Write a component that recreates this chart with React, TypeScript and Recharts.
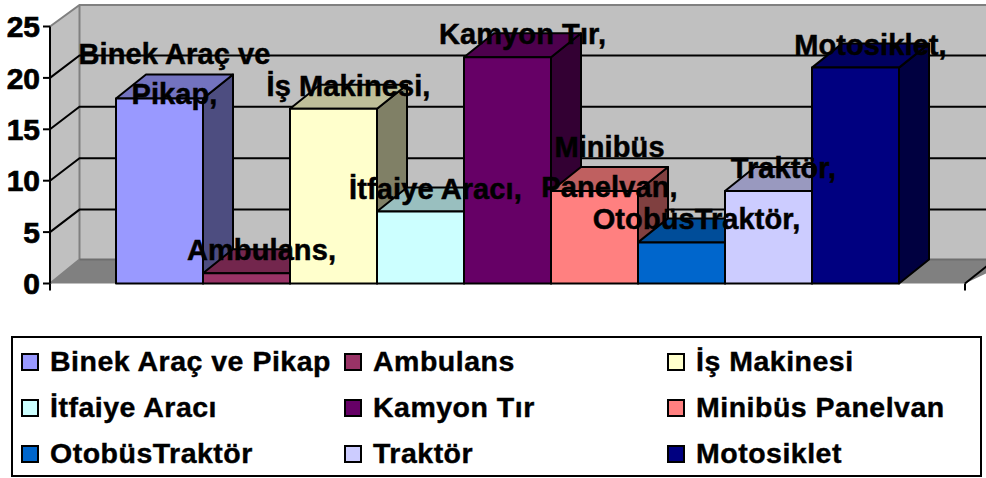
import React from "react";
import { BarChart, Bar, XAxis, YAxis, CartesianGrid, Legend, LabelList } from "recharts";

const seriesNames = ["Binek Araç ve Pikap", "Ambulans", "İş Makinesi", "İtfaiye Aracı", "Kamyon Tır", "Minibüs Panelvan", "OtobüsTraktör", "Traktör", "Motosiklet"];
const seriesValues = [18, 1, 17, 7, 22, 9, 4, 9, 21];
const seriesColors = ["#9999FF", "#993366", "#FFFFCC", "#CCFFFF", "#660066", "#FF8080", "#0066CC", "#CCCCFF", "#000080"];
const labelLines = [["Binek Araç ve", "Pikap,"], ["Ambulans,"], ["İş Makinesi,"], ["İtfaiye Aracı,"], ["Kamyon Tır,"], ["Minibüs", "Panelvan,"], ["OtobüsTraktör,"], ["Traktör,"], ["Motosiklet,"]];
const yTicks = [0, 5, 10, 15, 20, 25];

const row: Record<string, string | number> = { name: "" };
seriesNames.forEach((n, i) => { row[n] = seriesValues[i]; });
const data = [row];

const W = 986, H = 478;
const PLOT = { left: 50, right: 965, top: 26.5, bottom: 283.5 };
const DX = 29.5, DY = 22.5, BAR_DX = 30, BAR_DY = 24;
const FONT = "'Liberation Sans', Arial, sans-serif";

function shade(hex: string, f: number) {
  const n = parseInt(hex.slice(1), 16);
  const c = [(n >> 16) & 255, (n >> 8) & 255, n & 255].map((v) => Math.round(v * f));
  return `rgb(${c[0]},${c[1]},${c[2]})`;
}

function Bar3D(props: any) {
  const { x, y, width, height, fill } = props;
  const r = x + width, b = y + height;
  return (
    <g stroke="#000" strokeWidth={2} strokeLinejoin="round">
      <polygon points={`${r},${y} ${r + BAR_DX},${y - BAR_DY} ${r + BAR_DX},${b - BAR_DY} ${r},${b}`} fill={shade(fill, 0.5)} />
      <polygon points={`${x},${y} ${x + BAR_DX},${y - BAR_DY} ${r + BAR_DX},${y - BAR_DY} ${r},${y}`} fill={shade(fill, 0.75)} />
      <rect x={x} y={y} width={width} height={height} fill={fill} />
    </g>
  );
}

function GridLine(props: any) {
  const { x1, y1, x2, index } = props;
  const l = PLOT.left, t = PLOT.top, b = PLOT.bottom;
  const isEdge = Math.abs(y1 - t) < 1 || Math.abs(y1 - b) < 1;
  return (
    <g>
      {index === 0 && (
        <g>
          <polygon points={`${l},${t} ${l + DX},${t - 21.5} ${W + 5},${t - 21.5} ${W + 5},${b - 24} ${l + DX},${b - 24} ${l},${b}`} fill="#C0C0C0" />
          <polygon points={`${l},${b} ${l + DX},${b - 24} ${W + 30},${b - 24} ${x2},${b}`} fill="#808080" />
          <polyline points={`${l},${t} ${l + DX},${t - 21.5} ${W + 5},${t - 21.5}`} fill="none" stroke="#808080" strokeWidth={2} />
          <polyline points={`${l},${b} ${l + DX},${b - 24} ${l + DX},${t - 21.5}`} fill="none" stroke="#808080" strokeWidth={2} />
          <line x1={l + DX} y1={b - 24} x2={W + 5} y2={b - 24} stroke="#6e6e6e" strokeWidth={2} />
          <line x1={x2} y1={b} x2={x2 + 30} y2={b - 24} stroke="#000" strokeWidth={2} />
          <line x1={l} y1={b} x2={l} y2={b + 7} stroke="#000" strokeWidth={2} />
          <line x1={x2} y1={b} x2={x2} y2={b + 7} stroke="#000" strokeWidth={2} />
        </g>
      )}
      {!isEdge && (
        <polyline points={`${x1},${y1} ${x1 + DX},${y1 - DY} ${W + 5},${y1 - DY}`} fill="none" stroke="#000" strokeWidth={2} />
      )}
    </g>
  );
}

function LegendGrid(props: any) {
  const { payload } = props;
  return (
    <div style={{ boxSizing: "border-box", width: 971, height: 141, border: "2px solid #000", background: "#fff", display: "grid", gridTemplateColumns: "323px 323px 323px", gridTemplateRows: "46px 46px 46px", paddingTop: 1, paddingLeft: 8 }}>
      {(payload || []).map((e: any) => (
        <div key={e.value} style={{ display: "flex", alignItems: "center", font: `bold 28.5px ${FONT}`, letterSpacing: 0.5, color: "#000", whiteSpace: "nowrap", WebkitTextStroke: "0.4px #000" }}>
          <span style={{ boxSizing: "border-box", width: 18, height: 18, border: "2px solid #000", background: e.color, marginRight: 11, flex: "none" }} />
          {e.value}
        </div>
      ))}
    </div>
  );
}

function makeLabel(lines: string[]) {
  return function BarLabel(props: any) {
    const { x, y, width } = props;
    const cx = x + width / 2 + 15;
    const baselines = lines.length === 2 ? [y - 34, y + 6] : [y - 13];
    return (
      <g>
        {lines.map((t, i) => (
          <text key={t} x={cx} y={baselines[i]} textAnchor="middle" fontFamily={FONT} fontWeight="bold" fontSize={29} letterSpacing={0.1} fill="#000" stroke="#000" strokeWidth={0.5}>{t}</text>
        ))}
      </g>
    );
  };
}

export default function App() {
  const mLabels = { top: PLOT.top, right: W - PLOT.right, left: PLOT.left, bottom: H - PLOT.bottom };
  return (
    <div style={{ position: "absolute", left: 0, top: 0, width: W, height: H, overflow: "hidden", background: "#fff" }}>
      <div style={{ position: "absolute", left: 0, top: 0 }}>
        <BarChart width={W} height={H} data={data} barCategoryGap={66} barGap={0} margin={{ top: PLOT.top, right: W - PLOT.right, left: 0, bottom: H - PLOT.bottom - 141 }}>
          <CartesianGrid vertical={false} horizontal={GridLine as any} />
          <XAxis dataKey="name" tick={false} tickLine={false} height={0} axisLine={{ stroke: "#000", strokeWidth: 3 }} />
          <YAxis width={50} domain={[0, 25]} ticks={yTicks} interval={0} tickSize={7} tickMargin={3}
            axisLine={{ stroke: "#000", strokeWidth: 2 }} tickLine={{ stroke: "#000", strokeWidth: 2 }}
            tick={{ fill: "#000", fontFamily: FONT, fontWeight: "bold", fontSize: 30, stroke: "#000", strokeWidth: 0.7 }} />
          <Legend content={LegendGrid as any} itemSorter={null as any} height={141} wrapperStyle={{ left: 11, top: 335.5, width: 971, height: 141, bottom: "auto" }} />
          {seriesNames.map((n, i) => (
            <Bar key={n} dataKey={n} fill={seriesColors[i]} shape={Bar3D} isAnimationActive={false} />
          ))}
        </BarChart>
      </div>
      <div style={{ position: "absolute", left: 0, top: 0, pointerEvents: "none" }}>
        <BarChart width={W} height={H} data={data} barCategoryGap={66} barGap={0} margin={mLabels}>
          <XAxis dataKey="name" hide />
          <YAxis hide domain={[0, 25]} ticks={yTicks} />
          {seriesNames.map((n, i) => (
            <Bar key={n} dataKey={n} fill="none" legendType="none" isAnimationActive={false}>
              <LabelList dataKey={n} content={makeLabel(labelLines[i]) as any} />
            </Bar>
          ))}
        </BarChart>
      </div>
    </div>
  );
}
